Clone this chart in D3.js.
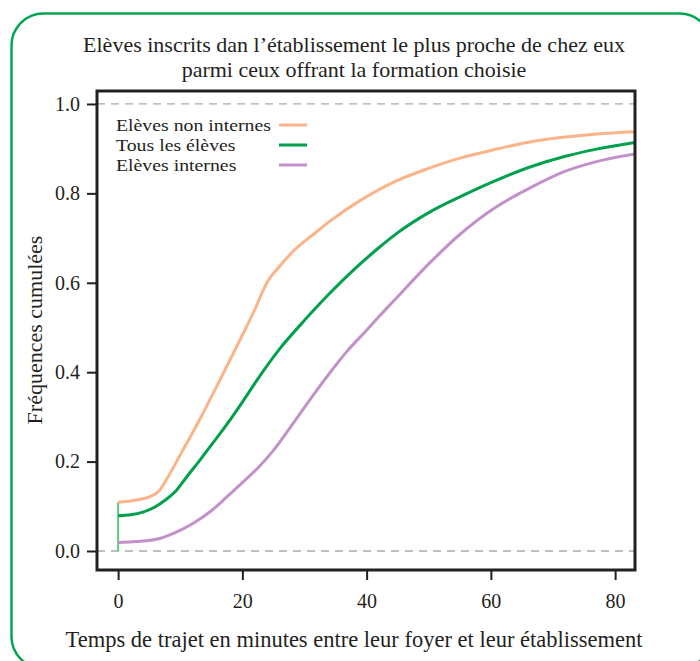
<!DOCTYPE html>
<html><head><meta charset="utf-8">
<script src="https://cdn.jsdelivr.net/npm/d3@7"></script>
<style>body{margin:0;background:#fff}svg{display:block}</style>
</head><body>
<script>
// ---- data ----
const titleLines = ["Elèves inscrits dan l’établissement le plus proche de chez eux", "parmi ceux offrant la formation choisie"];
const seriesNames = ["Elèves non internes", "Tous les élèves", "Elèves internes"];
const seriesColors = ["#fbb48a", "#00a04c", "#c291c9"];
const xTicks = [0, 20, 40, 60, 80];
const yTicks = [0, 0.2, 0.4, 0.6, 0.8, 1.0];

const minutesNonInternes = [0, 3, 5, 6.7, 8, 10, 13.2, 16.4, 19.6, 22, 23.9, 26, 28.5, 31.4, 34.1, 39.2, 44.8, 50, 55.6, 60, 66.3, 72, 77, 83.2];
const freqNonInternes    = [0.109, 0.114, 0.121, 0.136, 0.165, 0.215, 0.296, 0.383, 0.472, 0.54, 0.599, 0.637, 0.675, 0.708, 0.738, 0.786, 0.828, 0.856, 0.881, 0.896, 0.915, 0.926, 0.933, 0.938];

const minutesTous = [0, 2, 4, 6, 7.5, 9.4, 11, 13.2, 15, 17.5, 20, 22.3, 26, 30, 34.1, 38, 42.1, 44.8, 50, 55.6, 60, 66.3, 72, 77, 83.2];
const freqTous    = [0.079, 0.081, 0.087, 0.099, 0.113, 0.136, 0.165, 0.204, 0.237, 0.283, 0.333, 0.381, 0.452, 0.516, 0.577, 0.630, 0.680, 0.710, 0.757, 0.796, 0.824, 0.859, 0.883, 0.899, 0.914];

const minutesInternes = [0, 3, 6.7, 9, 12.1, 15, 17.5, 20, 22.8, 25, 28.2, 32, 35, 36.8, 40, 42.1, 44.8, 50.2, 55, 60.9, 66, 71.7, 77, 83.2];
const freqInternes    = [0.019, 0.021, 0.028, 0.040, 0.062, 0.09, 0.121, 0.153, 0.19, 0.225, 0.286, 0.36, 0.415, 0.446, 0.494, 0.526, 0.566, 0.645, 0.708, 0.770, 0.81, 0.848, 0.871, 0.888];

const xLabel = "Temps de trajet en minutes entre leur foyer et leur établissement";
const yLabel = "Fréquences cumulées";

// ---- drawing ----
const W = 700, H = 661;
const font = "'Liberation Serif', 'DejaVu Serif', serif";
const ink = "#231f20";
const svg = d3.select("body").append("svg").attr("width", W).attr("height", H)
  .style("font-family", font);

// frame
svg.append("rect").attr("x", 11.5).attr("y", 13.5).attr("width", 700).attr("height", 655)
  .attr("rx", 32).attr("fill", "none").attr("stroke", "#00a651").attr("stroke-width", 2.5);

const plot = {l: 97, r: 635, t: 91, b: 570};
const x = d3.scaleLinear().domain([-3.4, 83.2]).range([plot.l, plot.r]);
const y = d3.scaleLinear().domain([-0.0425, 1.029]).range([plot.b, plot.t]);

// title
svg.append("g").selectAll("text").data(titleLines).join("text")
  .attr("x", 354).attr("y", (d, i) => 52 + i * 25)
  .attr("text-anchor", "middle").attr("font-size", 22).attr("fill", ink)
  .text(d => d);

// clip
svg.append("clipPath").attr("id", "clip").append("rect")
  .attr("x", plot.l).attr("y", plot.t).attr("width", plot.r - plot.l).attr("height", plot.b - plot.t);

// dashed reference lines
svg.append("g").selectAll("line").data([0, 1]).join("line")
  .attr("x1", plot.l).attr("x2", plot.r).attr("y1", d => y(d)).attr("y2", d => y(d))
  .attr("stroke", "#a7a9ac").attr("stroke-width", 1.3).attr("stroke-dasharray", "8,6");

// vertical segment at x = 0
svg.append("line").attr("x1", x(0)).attr("x2", x(0)).attr("y1", y(0)).attr("y2", y(freqNonInternes[0]))
  .attr("stroke", "#5ec77c").attr("stroke-width", 2);

// curves
const series = [
  {xs: minutesInternes, ys: freqInternes, c: seriesColors[2]},
  {xs: minutesTous, ys: freqTous, c: seriesColors[1]},
  {xs: minutesNonInternes, ys: freqNonInternes, c: seriesColors[0]}
];
const line = d3.line().x(d => x(d[0])).y(d => y(d[1])).curve(d3.curveMonotoneX);
svg.append("g").attr("clip-path", "url(#clip)").selectAll("path").data(series).join("path")
  .attr("d", s => line(d3.zip(s.xs, s.ys)))
  .attr("fill", "none").attr("stroke", s => s.c).attr("stroke-width", 3);

// box
svg.append("rect").attr("x", plot.l).attr("y", plot.t).attr("width", plot.r - plot.l).attr("height", plot.b - plot.t)
  .attr("fill", "none").attr("stroke", ink).attr("stroke-width", 3);

// axes
const yAxis = svg.append("g").attr("transform", `translate(${plot.l},0)`)
  .call(d3.axisLeft(y).tickValues(yTicks).tickFormat(d3.format(".1f")).tickSize(10).tickPadding(7));
const xAxis = svg.append("g").attr("transform", `translate(0,${plot.b})`)
  .call(d3.axisBottom(x).tickValues(xTicks).tickFormat(d3.format("d")).tickSize(10).tickPadding(14));
[yAxis, xAxis].forEach(a => {
  a.select(".domain").remove();
  a.selectAll(".tick line").attr("stroke", ink).attr("stroke-width", 2);
  a.selectAll(".tick text").attr("font-size", 20).attr("fill", ink).style("font-family", font);
});

// axis titles
svg.append("text").attr("x", 354).attr("y", 647).attr("text-anchor", "middle")
  .attr("font-size", 22.5).attr("fill", ink).text(xLabel);
svg.append("text").attr("transform", "translate(42,330) rotate(-90)").attr("text-anchor", "middle")
  .attr("font-size", 22).attr("fill", ink).text(yLabel);

// legend (slightly widened glyphs to match the reference's typeface proportions)
const lg = svg.append("g");
const legendY = [125, 145, 165];
const lgTexts = seriesNames.map((n, i) =>
  lg.append("text").attr("x", 0).attr("y", 0).attr("font-size", 16.5).attr("fill", ink).text(n));
const natural = lgTexts[0].node().getComputedTextLength();
const sx = 155 / natural;
lgTexts.forEach((t, i) => t.attr("transform", `translate(116,${legendY[i] + 5.5}) scale(${sx},1)`));
seriesNames.forEach((n, i) => {
  lg.append("line").attr("x1", 279).attr("x2", 307).attr("y1", legendY[i]).attr("y2", legendY[i])
    .attr("stroke", seriesColors[i]).attr("stroke-width", 3);
});
</script>
</body></html>
